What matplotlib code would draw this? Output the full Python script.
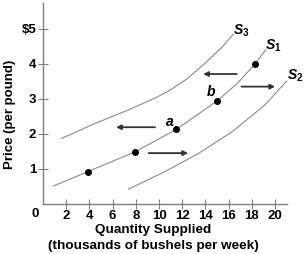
import matplotlib
matplotlib.use("Agg")
import matplotlib.pyplot as plt

plt.rcParams['font.family'] = ['Liberation Sans', 'DejaVu Sans']
plt.rcParams['font.weight'] = 'bold'
plt.rcParams['mathtext.fontset'] = 'custom'
plt.rcParams['mathtext.it'] = 'Liberation Sans:italic:bold'
plt.rcParams['mathtext.rm'] = 'Liberation Sans:bold'

# supply curves (quantity, price)
s1_q = [0.9, 3.85, 7.9, 11.5, 15.0, 16.8, 18.3, 19.2]
s1_p = [0.5, 0.91, 1.47, 2.12, 2.93, 3.45, 4.0, 4.4]
s3_q = [1.6, 4.5, 7.4, 9.7, 11.0, 12.4, 14.0, 15.4, 16.4]
s3_p = [1.86, 2.29, 2.68, 3.02, 3.25, 3.56, 4.02, 4.46, 4.84]
s2_q = [7.36, 10.5, 13.4, 16.3, 19.1, 21.0]
s2_p = [0.41, 0.91, 1.43, 2.05, 2.81, 3.5]

# dots on S1
dot_q = [3.85, 7.9, 11.5, 15.0, 18.3]
dot_p = [0.91, 1.47, 2.12, 2.93, 4.0]

# arrows: (start q, end q, price)
arrows = [(16.7, 13.8, 3.7), (17.1, 20.0, 3.34), (9.65, 6.3, 2.18), (9.1, 12.5, 1.44)]

xticks = [2, 4, 6, 8, 10, 12, 14, 16, 18, 20]
yticks = [1, 2, 3, 4, 5]
ytick_labels = ['1', '2', '3', '4', '$5']

fig = plt.figure(figsize=(3.08, 2.54), dpi=100)
ax = fig.add_axes([43 / 308, 50.5 / 254, 243.7 / 308, 200.5 / 254])

curve_col = '#8a8a8a'
ax.plot(s1_q, s1_p, color=curve_col, lw=0.8)
ax.plot(s3_q, s3_p, color=curve_col, lw=0.8)
ax.plot(s2_q, s2_p, color=curve_col, lw=0.8)
ax.scatter(dot_q, dot_p, s=16, color='black', zorder=3)

for q0, q1, p in arrows:
    ax.annotate('', xy=(q1, p), xytext=(q0, p),
                arrowprops=dict(arrowstyle='-|>', color='#333333', lw=1.3,
                                mutation_scale=7, shrinkA=0, shrinkB=0))

ax.text(17.1, 4.93, r'$S_{\mathit{3}}$', fontsize=10, ha='center', va='center')
ax.text(19.8, 4.5, r'$S_{\mathit{1}}$', fontsize=10, ha='center', va='center')
ax.text(21.7, 3.64, r'$S_{\mathit{2}}$', fontsize=10, ha='center', va='center')
ax.text(10.9, 2.33, 'a', fontsize=10, style='italic', fontweight='bold',
        ha='center', va='center')
ax.text(14.5, 3.2, 'b', fontsize=10, style='italic', fontweight='bold',
        ha='center', va='center')

ax.set_xlim(0, 21)
ax.set_ylim(0, 5.73)
ax.set_xticks(xticks)
ax.set_yticks(yticks)
ax.set_yticklabels(ytick_labels)
for sp in ['top', 'right']:
    ax.spines[sp].set_visible(False)
for sp in ['left', 'bottom']:
    ax.spines[sp].set_color('#808080')
    ax.spines[sp].set_linewidth(1.0)
ax.tick_params(direction='inout', length=7, width=0.8, color='#808080',
               labelsize=9.5, pad=1.5)
for lab in ax.get_xticklabels() + ax.get_yticklabels():
    lab.set_fontweight('bold')

fig.text(35 / 308, 1 - 214 / 254, '0', fontsize=9.5, fontweight='bold',
         ha='center', va='center')
fig.text(153 / 308, 1 - 230 / 254, 'Quantity Supplied', fontsize=9.7,
         fontweight='bold', ha='center', va='center')
fig.text(153 / 308, 1 - 246.5 / 254, '(thousands of bushels per week)', fontsize=9.7,
         fontweight='bold', ha='center', va='center')
fig.text(10 / 308, 1 - 114 / 254, 'Price (per pound)', fontsize=9.5,
         fontweight='bold', ha='center', va='center', rotation=90)

fig.savefig('out.png', dpi=100)
